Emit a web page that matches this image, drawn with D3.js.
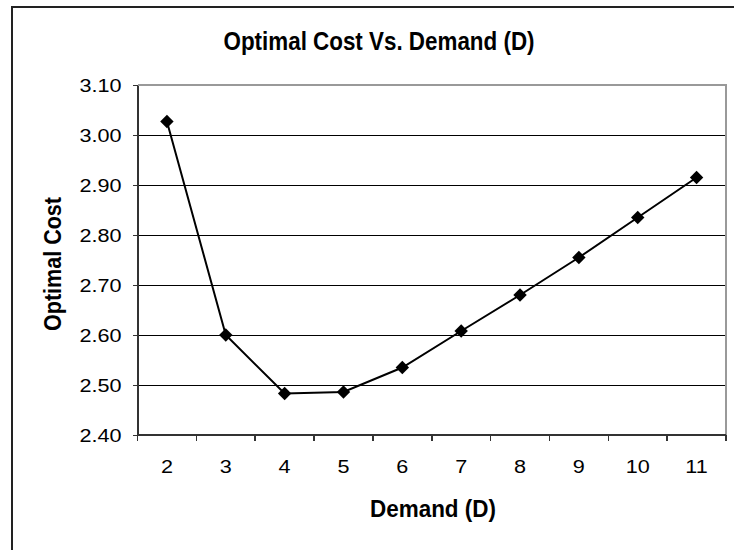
<!DOCTYPE html>
<html>
<head>
<meta charset="utf-8">
<script src="https://cdn.jsdelivr.net/npm/d3@7"></script>
<style>
  html, body { margin: 0; padding: 0; background: #fff; }
  svg { display: block; font-family: "Liberation Sans", Arial, sans-serif; }
</style>
</head>
<body>
<svg id="chart" width="734" height="550"></svg>
<script>
// Demand levels (x categories) and the optimal cost found for each
const demand = [2, 3, 4, 5, 6, 7, 8, 9, 10, 11];
const optimalCost = [3.027, 2.600, 2.483, 2.486, 2.535, 2.608, 2.680, 2.755, 2.835, 2.915];
const costTicks = [2.40, 2.50, 2.60, 2.70, 2.80, 2.90, 3.00, 3.10];

const chartTitle = "Optimal Cost Vs. Demand (D)";
const xTitle = "Demand (D)";
const yTitle = "Optimal Cost";

const svg = d3.select("#chart");
const plot = { left: 137.5, right: 726, top: 85, bottom: 435 };

// stretch/condense a text node horizontally to a factor of its natural width
function widen(sel, factor) {
  sel.each(function () {
    const w = this.getComputedTextLength();
    d3.select(this).attr("textLength", w * factor).attr("lengthAdjust", "spacingAndGlyphs");
  });
}

// outer chart frame (runs off the right and bottom edges)
svg.append("path")
  .attr("d", "M12,552 L12,7 L740,7")
  .attr("fill", "none").attr("stroke", "#222").attr("stroke-width", 2);

const x = d3.scaleBand().domain(demand).range([plot.left, plot.right]).padding(0);
const y = d3.scaleLinear().domain([2.40, 3.10]).range([plot.bottom, plot.top]);

// horizontal gridlines (pixel-aligned so they stay solid black)
svg.append("g").selectAll("line")
  .data(costTicks.slice(1, -1))
  .join("line")
  .attr("x1", plot.left).attr("x2", plot.right)
  .attr("y1", d => Math.round(y(d)) + 0.5).attr("y2", d => Math.round(y(d)) + 0.5)
  .attr("stroke", "#000").attr("stroke-width", 1)
  .attr("shape-rendering", "crispEdges");

// plot-area border (top and right)
svg.append("path")
  .attr("d", `M${plot.left},${plot.top} L${plot.right},${plot.top} L${plot.right},${plot.bottom}`)
  .attr("fill", "none").attr("stroke", "#999").attr("stroke-width", 2)
  .attr("shape-rendering", "crispEdges");

// y axis
const yAxis = svg.append("g")
  .attr("transform", `translate(${plot.left},0)`)
  .call(d3.axisLeft(y).tickValues(costTicks).tickFormat(d3.format(".2f")).tickSizeInner(5).tickSizeOuter(0).tickPadding(11));
yAxis.select(".domain").attr("stroke", "#333").attr("stroke-width", 2).attr("shape-rendering", "crispEdges");
yAxis.selectAll(".tick line").attr("stroke", "#333").attr("stroke-width", 1.5).attr("shape-rendering", "crispEdges");
yAxis.selectAll(".tick text")
  .attr("font-size", 18).attr("fill", "#000").attr("dy", "0.34em");
widen(yAxis.selectAll(".tick text"), 1.2);

// x axis: ticks sit on the category boundaries, labels in the middle
const xAxisG = svg.append("g").attr("transform", `translate(0,${plot.bottom})`);
xAxisG.append("line")
  .attr("x1", plot.left).attr("x2", plot.right)
  .attr("stroke", "#333").attr("stroke-width", 2)
  .attr("shape-rendering", "crispEdges");
const bounds = demand.map(d => x(d)).concat([x(demand[demand.length - 1]) + x.bandwidth()]);
xAxisG.selectAll("line.tk").data(bounds).join("line").attr("class", "tk")
  .attr("x1", d => d).attr("x2", d => d).attr("y1", 0).attr("y2", 6)
  .attr("stroke", "#333").attr("stroke-width", 1.5)
  .attr("shape-rendering", "crispEdges");
const xLabels = xAxisG.selectAll("text").data(demand).join("text")
  .attr("x", d => x(d) + x.bandwidth() / 2)
  .attr("y", 37.5)
  .attr("text-anchor", "middle")
  .attr("font-size", 18)
  .text(d => d);
widen(xLabels, 1.2);

// series line and diamond markers
const line = d3.line()
  .x((d, i) => x(demand[i]) + x.bandwidth() / 2)
  .y(d => y(d));
svg.append("path")
  .datum(optimalCost)
  .attr("d", line)
  .attr("fill", "none").attr("stroke", "#000").attr("stroke-width", 2);

const diamond = d3.symbol().type(d3.symbolSquare).size(90);
svg.append("g").selectAll("path")
  .data(optimalCost)
  .join("path")
  .attr("d", diamond)
  .attr("transform", (d, i) => `translate(${x(demand[i]) + x.bandwidth() / 2},${y(d)}) rotate(45)`)
  .attr("fill", "#000");

// titles
svg.append("text")
  .attr("x", 379).attr("y", 50)
  .attr("text-anchor", "middle")
  .attr("font-size", 25).attr("font-weight", "bold")
  .attr("textLength", 311).attr("lengthAdjust", "spacingAndGlyphs")
  .text(chartTitle);

svg.append("text")
  .attr("x", 433).attr("y", 517)
  .attr("text-anchor", "middle")
  .attr("font-size", 23).attr("font-weight", "bold")
  .attr("textLength", 126).attr("lengthAdjust", "spacingAndGlyphs")
  .text(xTitle);

svg.append("text")
  .attr("transform", "translate(61,264) rotate(-90)")
  .attr("text-anchor", "middle")
  .attr("font-size", 24).attr("font-weight", "bold")
  .attr("textLength", 134).attr("lengthAdjust", "spacingAndGlyphs")
  .text(yTitle);
</script>
</body>
</html>
